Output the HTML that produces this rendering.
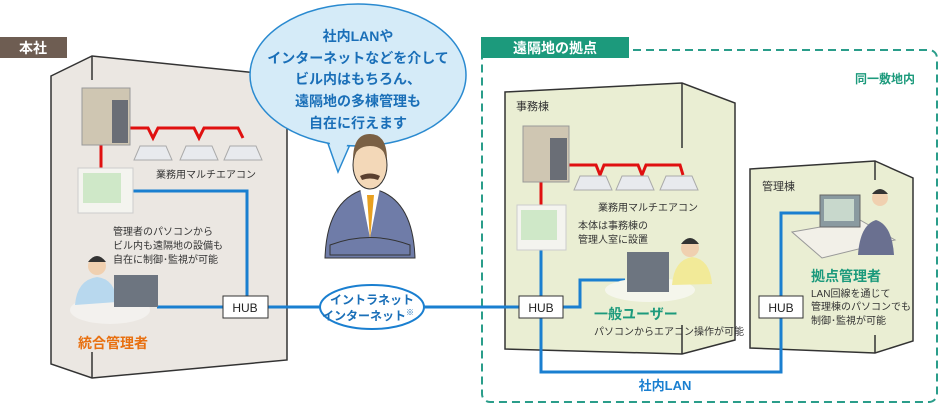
<!DOCTYPE html>
<html><head><meta charset="utf-8"><style>
html,body{margin:0;padding:0;background:#fff}
svg{display:block;font-family:"Liberation Sans","Noto Sans CJK JP",sans-serif}
</style></head><body>
<svg width="940" height="410" viewBox="0 0 940 410" xmlns="http://www.w3.org/2000/svg">
<!-- left building -->
<rect x="0" y="37" width="67" height="21" fill="#6e5d52"/>
<text x="33" y="53" font-size="14" fill="#fff" text-anchor="middle" font-weight="bold">本社</text>
<polygon points="51,76 92,56 287,76 287,360 92,378 51,364" fill="#ebe7e2" stroke="#333" stroke-width="1.5"/>
<line x1="92" y1="56" x2="92" y2="80" stroke="#333" stroke-width="1.5"/>
<line x1="92" y1="352" x2="92" y2="378" stroke="#333" stroke-width="1.5"/>

<!-- remote area -->
<rect x="482" y="50" width="455" height="352" rx="8" fill="none" stroke="#2a9d8a" stroke-width="2" stroke-dasharray="8,5"/>
<rect x="481" y="37" width="148" height="21" fill="#1c9a7c"/>
<text x="555" y="53" font-size="14" fill="#fff" text-anchor="middle" font-weight="bold">遠隔地の拠点</text>
<text x="855" y="83" font-size="12" fill="#1c9a7c" font-weight="bold">同一敷地内</text>

<polygon points="505,92 682,83 735,103 735,340 682,354 505,349" fill="#eaeed3" stroke="#333" stroke-width="1.5"/>
<line x1="682" y1="83" x2="682" y2="148" stroke="#333" stroke-width="1.5"/>
<line x1="682" y1="325" x2="682" y2="354" stroke="#333" stroke-width="1.5"/>
<polygon points="750,169 875,161 913,178 913,341 875,353 750,348" fill="#eaeed3" stroke="#333" stroke-width="1.5"/>
<line x1="875" y1="161" x2="875" y2="180" stroke="#333" stroke-width="1.5"/>
<line x1="875" y1="335" x2="875" y2="353" stroke="#333" stroke-width="1.5"/>

<!-- blue lines -->
<g fill="none" stroke="#1a7fd0" stroke-width="3">
<polyline points="133,191 247,191 247,296"/>
<line x1="157" y1="307" x2="223" y2="307"/>
<line x1="268" y1="307" x2="320" y2="307"/>
<line x1="424" y1="307" x2="519" y2="307"/>
<polyline points="563,307 580,307 580,280 625,280"/>
<line x1="541" y1="250" x2="541" y2="296"/>
<polyline points="541,318 541,372 781,372 781,318"/>
<polyline points="781,296 781,213 822,213"/>
</g>
<text x="665" y="390" font-size="13" fill="#1a7fd0" font-weight="bold" text-anchor="middle">社内LAN</text>

<!-- HUBs -->
<g font-size="12" text-anchor="middle" fill="#222">
<rect x="223" y="296" width="45" height="22" fill="#fff" stroke="#333"/><text x="245" y="312">HUB</text>
<rect x="519" y="296" width="44" height="22" fill="#fff" stroke="#333"/><text x="541" y="312">HUB</text>
<rect x="759" y="296" width="44" height="22" fill="#fff" stroke="#333"/><text x="781" y="312">HUB</text>
</g>
<ellipse cx="372" cy="307" rx="52" ry="22" fill="#fff" stroke="#1a7fd0" stroke-width="2"/>
<text x="372" y="304" font-size="12" fill="#1a6fb8" font-weight="bold" text-anchor="middle">イントラネット</text>
<text x="368" y="320" font-size="12" fill="#1a6fb8" font-weight="bold" text-anchor="middle">インターネット<tspan font-size="8" dy="-5">※</tspan></text>

<!-- red lines -->
<g fill="none" stroke="#e01010" stroke-width="3">
<polyline points="130,128 148,128 153,138 158,128 194,128 199,138 204,128 238,128 243,138"/>
<line x1="101" y1="145" x2="101" y2="168"/>
<polyline points="568,165 596,165 600,175 604,165 638,165 642,175 646,165 680,165 683,175"/>
<line x1="541" y1="180" x2="541" y2="205"/>
</g>
<!-- outdoor units -->
<rect x="82" y="88" width="48" height="57" fill="#cfc6b2" stroke="#999"/><rect x="112" y="100" width="16" height="43" fill="#6a6e76"/>
<rect x="523" y="126" width="46" height="56" fill="#cfc6b2" stroke="#999"/><rect x="550" y="138" width="17" height="42" fill="#6a6e76"/>
<!-- cassettes -->
<g fill="#e8eaee" stroke="#aaa">
<polygon points="140,146 166,146 172,160 134,160"/><polygon points="186,146 212,146 218,160 180,160"/><polygon points="230,146 256,146 262,160 224,160"/>
<polygon points="580,176 606,176 612,190 574,190"/><polygon points="622,176 648,176 654,190 616,190"/><polygon points="666,176 692,176 698,190 660,190"/>
</g>
<!-- controllers -->
<rect x="78" y="168" width="55" height="45" fill="#f4f4ef" stroke="#ccc"/><rect x="83" y="173" width="38" height="30" fill="#cfe8c8"/>
<rect x="517" y="205" width="49" height="45" fill="#f4f4ef" stroke="#ccc"/><rect x="521" y="210" width="36" height="30" fill="#cfe8c8"/>

<!-- left admin -->
<ellipse cx="110" cy="310" rx="40" ry="14" fill="#f3f1ee"/>
<circle cx="97" cy="266" r="9" fill="#f0d0b0"/><path d="M88,262 q9,-12 18,0 z" fill="#333"/>
<path d="M75,305 q2,-25 22,-28 q18,2 20,25 z" fill="#b8d8ee"/>
<rect x="114" y="275" width="44" height="32" fill="#6d7580"/>
<text x="113" y="348" font-size="14" fill="#e87010" font-weight="bold" text-anchor="middle">統合管理者</text>
<g font-size="10" fill="#333">
<text x="156" y="178">業務用マルチエアコン</text>
<text x="113" y="235">管理者のパソコンから</text>
<text x="113" y="249">ビル内も遠隔地の設備も</text>
<text x="113" y="263">自在に制御･監視が可能</text>
</g>

<!-- bubble -->
<path d="M325,135 L338,172 L352,140 Z" fill="#d5ebf8" stroke="#2a8ad0" stroke-width="1.5"/>
<ellipse cx="358" cy="75" rx="108" ry="71" fill="#d5ebf8" stroke="#2a8ad0" stroke-width="1.5"/>
<path d="M327,135 L338,167 L350,138 Z" fill="#d5ebf8"/>
<g font-size="14" fill="#1a6fb8" font-weight="bold" text-anchor="middle">
<text x="358" y="41">社内LANや</text>
<text x="358" y="63">インターネットなどを介して</text>
<text x="358" y="84">ビル内はもちろん、</text>
<text x="358" y="106">遠隔地の多棟管理も</text>
<text x="358" y="128">自在に行えます</text>
</g>
<!-- man -->
<path d="M325,258 q2,-62 45,-70 q43,8 45,70 z" fill="#6f7ca8" stroke="#333"/>
<path d="M360,188 l10,50 l10,-50 z" fill="#fff"/><path d="M367,195 l3,45 l4,-45 z" fill="#e8a020"/>
<ellipse cx="370" cy="165" rx="17" ry="24" fill="#f3d8b8" stroke="#333"/>
<path d="M353,160 q0,-26 17,-26 q17,0 17,26 q-3,-14 -17,-14 q-14,0 -17,14z" fill="#7a6044"/>
<path d="M360,176 q10,-5 20,0 l-2,4 q-8,-3 -16,0z" fill="#5a4030"/>
<path d="M330,245 q40,-15 80,0 l0,10 l-80,0z" fill="#6f7ca8" stroke="#333"/>

<!-- remote texts -->
<g font-size="11" fill="#333">
<text x="516" y="110">事務棟</text>
<text x="762" y="190">管理棟</text>
</g>
<g font-size="10" fill="#333">
<text x="598" y="211">業務用マルチエアコン</text>
<text x="578" y="229">本体は事務棟の</text>
<text x="578" y="243">管理人室に設置</text>
<text x="594" y="335">パソコンからエアコン操作が可能</text>
<text x="811" y="297">LAN回線を通じて</text>
<text x="811" y="310">管理棟のパソコンでも</text>
<text x="811" y="324">制御･監視が可能</text>
</g>
<text x="594" y="319" font-size="14" fill="#1c9a7c" font-weight="bold">一般ユーザー</text>
<text x="811" y="281" font-size="14" fill="#1c9a7c" font-weight="bold">拠点管理者</text>

<!-- general user -->
<ellipse cx="650" cy="290" rx="45" ry="12" fill="#f5f6ec"/>
<path d="M672,285 q2,-25 20,-28 q18,2 20,27 z" fill="#f2ea98"/>
<circle cx="690" cy="248" r="9" fill="#f0d0b0"/><path d="M681,244 q9,-12 18,0z" fill="#333"/>
<rect x="627" y="252" width="42" height="40" fill="#6d7580"/>
<!-- base admin -->
<polygon points="792,232 860,220 895,240 822,258" fill="#f2f0e8" stroke="#999"/>
<rect x="820" y="195" width="40" height="32" fill="#8a9aa0" stroke="#666"/><rect x="824" y="199" width="30" height="22" fill="#c8d8cc"/>
<path d="M858,255 q2,-30 18,-35 q16,5 18,35 z" fill="#6a7090"/>
<circle cx="880" cy="198" r="8" fill="#f0d0b0"/><path d="M872,194 q8,-10 16,0z" fill="#333"/>
</svg>
</body></html>
